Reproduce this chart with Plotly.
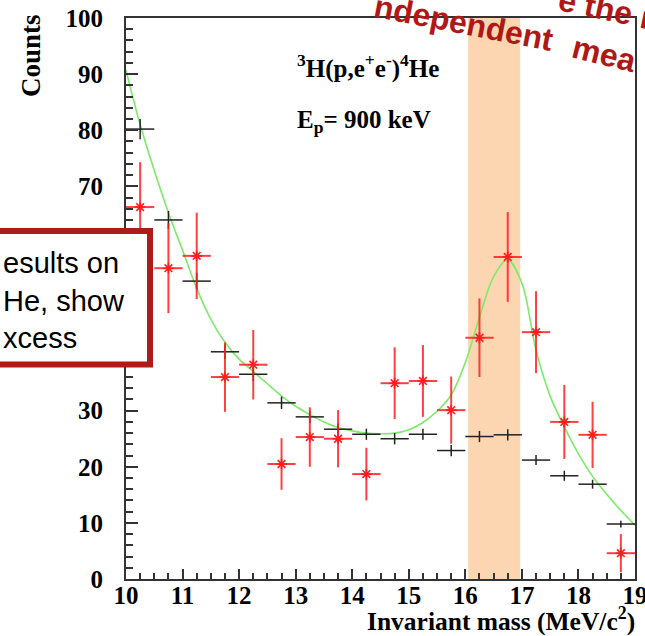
import plotly.graph_objects as go

# bin centres (MeV/c^2), 0.5 MeV bins
bins = [10.25, 10.75, 11.25, 11.75, 12.25, 12.75, 13.25, 13.75, 14.25,
        14.75, 15.25, 15.75, 16.25, 16.75, 17.25, 17.75, 18.25, 18.75]
bin_half = 0.25

# black crosses (simulated background)
black_counts = [80.2, 64.0, 53.1, 40.5, 36.5, 31.4, 28.9, 26.7, 25.8,
                25.0, 25.8, 22.9, 25.4, 25.7, 21.2, 18.4, 16.9, 9.8]
black_err = [1.8, 1.6, 1.5, 1.3, 1.2, 1.1, 1.1, 1.0, 1.0,
             1.0, 1.0, 1.0, 1.0, 1.0, 0.9, 0.9, 0.8, 0.6]

# red stars (measured)
red_counts = [66.3, 55.4, 57.6, 36.0, 38.2, 20.5, 25.3, 25.0, 18.7,
              34.9, 35.3, 30.1, 43.0, 57.4, 44.0, 28.0, 25.7, 4.6]
red_err = [8.0, 8.0, 7.7, 6.2, 6.2, 4.6, 5.3, 5.1, 4.7,
           6.4, 6.4, 6.0, 7.0, 8.0, 7.3, 6.6, 5.9, 3.4]

# green fit curve
fit_x = [10.0, 10.25, 10.5, 10.75, 11.0, 11.25, 11.5, 11.75, 12.0, 12.25,
         12.5, 12.75, 13.0, 13.25, 13.5, 13.75, 14.0, 14.25, 14.5, 14.75,
         15.0, 15.25, 15.5, 15.75, 16.0, 16.25, 16.5, 16.75, 17.0, 17.25,
         17.5, 17.75, 18.0, 18.25, 18.5, 18.75, 19.0]
fit_y = [90.7, 81.0, 72.8, 65.3, 58.6, 51.8, 46.3, 42.2, 39.2, 37.0,
         34.8, 32.6, 30.8, 29.3, 28.0, 27.0, 26.4, 26.0, 25.9, 26.0,
         26.6, 27.9, 29.9, 32.8, 38.6, 46.6, 53.9, 56.9, 52.7, 40.8,
         32.6, 27.1, 22.3, 18.3, 15.1, 12.2, 9.6]

band_lo, band_hi = 16.05, 16.97

W, H = 645, 636
PL, PR, PT, PB = 126, 635, 18, 579          # plot box in pixels
ML, MR, MT, MB = PL, W - PR, PT, H - PB
PW, PH = PR - PL, PB - PT


def px(x):
    return (x - PL) / PW


def py(y):
    return (PB - y) / PH


serif = 'Liberation Serif'
sans = 'Liberation Sans'
axcol = '#333333'
redtext = '#B01818'

fig = go.Figure()

fig.add_vrect(x0=band_lo, x1=band_hi, fillcolor='rgb(252,214,176)',
              line_width=0, layer='below')

fig.add_trace(go.Scatter(
    x=fit_x, y=fit_y, mode='lines',
    line=dict(color='rgb(125,234,105)', width=1.6, shape='spline'),
    hoverinfo='skip'))

fig.add_trace(go.Scatter(
    x=bins, y=black_counts, mode='markers',
    marker=dict(size=1, color='#222222'),
    error_x=dict(type='constant', value=bin_half, width=0, thickness=1.5, color='#222222'),
    error_y=dict(type='data', array=black_err, width=0, thickness=1.5, color='#222222')))

fig.add_trace(go.Scatter(
    x=bins, y=red_counts, mode='markers',
    marker=dict(symbol='asterisk-open', size=9, color='rgb(255,30,30)',
                line=dict(color='rgb(255,30,30)', width=1.6)),
    error_x=dict(type='constant', value=bin_half, width=0, thickness=2, color='rgba(255,30,30,0.85)'),
    error_y=dict(type='data', array=red_err, width=0, thickness=2, color='rgba(255,30,30,0.85)')))

tickfont = dict(family=serif, size=25, color='black', weight='bold')

fig.update_xaxes(
    range=[10, 19], tick0=10, dtick=1, ticks='inside', ticklen=10,
    tickwidth=1.5, tickcolor=axcol, showline=True, linewidth=2,
    linecolor=axcol, mirror=True, showgrid=False, zeroline=False,
    minor=dict(dtick=0.25, ticks='inside', ticklen=6, tickwidth=1.5,
               tickcolor=axcol, showgrid=False),
    tickfont=tickfont, ticklabelstandoff=-7, ticklabeloverflow='allow',
    automargin=False)

fig.update_yaxes(
    range=[0, 100], tick0=0, dtick=10, ticks='inside', ticklen=12,
    tickwidth=1.5, tickcolor=axcol, showline=True, linewidth=2,
    linecolor=axcol, mirror=True, showgrid=False, zeroline=False,
    minor=dict(dtick=2, ticks='inside', ticklen=7, tickwidth=1.5,
               tickcolor=axcol, showgrid=False),
    tickfont=tickfont, ticklabelstandoff=16, ticklabeloverflow='allow',
    automargin=False)

shapes = [
    # white backing of the arched slide text
    dict(type='path', xref='paper', yref='paper', layer='above',
         path='M {:.4f},{:.4f} L {:.4f},{:.4f} L {:.4f},{:.4f} L {:.4f},{:.4f} Z'.format(
             px(340), py(-10), px(340), py(3.6), px(660), py(93.2), px(660), py(-10)),
         fillcolor='white', line_width=0),
    # slide callout box
    dict(type='rect', xref='paper', yref='paper', layer='above',
         x0=px(-20), x1=px(150), y0=py(364.5), y1=py(231),
         fillcolor='white', line=dict(color='#AC1C18', width=6)),
]

annotations = [
    dict(text='<sup>3</sup>H(p,e<sup>+</sup>e<sup>-</sup>)<sup>4</sup>He',
         x=px(295), y=py(66), xanchor='left', yanchor='middle', size=25),
    dict(text='E<sub>p</sub>= 900 keV',
         x=px(295), y=py(121), xanchor='left', yanchor='middle', size=25),
    dict(text='Counts', textangle=-90,
         x=px(31), y=py(56), xanchor='center', yanchor='middle', size=27),
    dict(text='Invariant mass (MeV/c<sup>2</sup>)',
         x=px(637), y=py(619), xanchor='right', yanchor='middle', size=25.5),
]
for a in annotations:
    a.update(xref='paper', yref='paper', showarrow=False,
             font=dict(family=serif, size=a.pop('size'), color='black', weight='bold'))

annotations.append(dict(
    text='esults on<br>He, show<br>xcess', align='left',
    x=px(1), y=py(301), xanchor='left', yanchor='middle',
    xref='paper', yref='paper', showarrow=False,
    font=dict(family=sans, size=29, color='black')))

for word, cx, cy, ang in [('ndependent', 464, 23, 11), ('mea', 604, 54, 14),
                          ('e the r', 606, 9, 12)]:
    annotations.append(dict(
        text=word, textangle=ang, x=px(cx), y=py(cy),
        xanchor='center', yanchor='middle', xref='paper', yref='paper',
        showarrow=False,
        font=dict(family=sans, size=32, color=redtext, weight='bold')))

fig.update_layout(
    width=W, height=H, autosize=False,
    margin=dict(l=ML, r=MR, t=MT, b=MB, pad=0),
    paper_bgcolor='white', plot_bgcolor='rgba(0,0,0,0)',
    showlegend=False, shapes=shapes, annotations=annotations)

# the page body has a default 8px margin; drop it so the figure sits at the corner
fig.write_html("out.html", config={'displayModeBar': False},
               post_script="document.body.style.margin='0';")
